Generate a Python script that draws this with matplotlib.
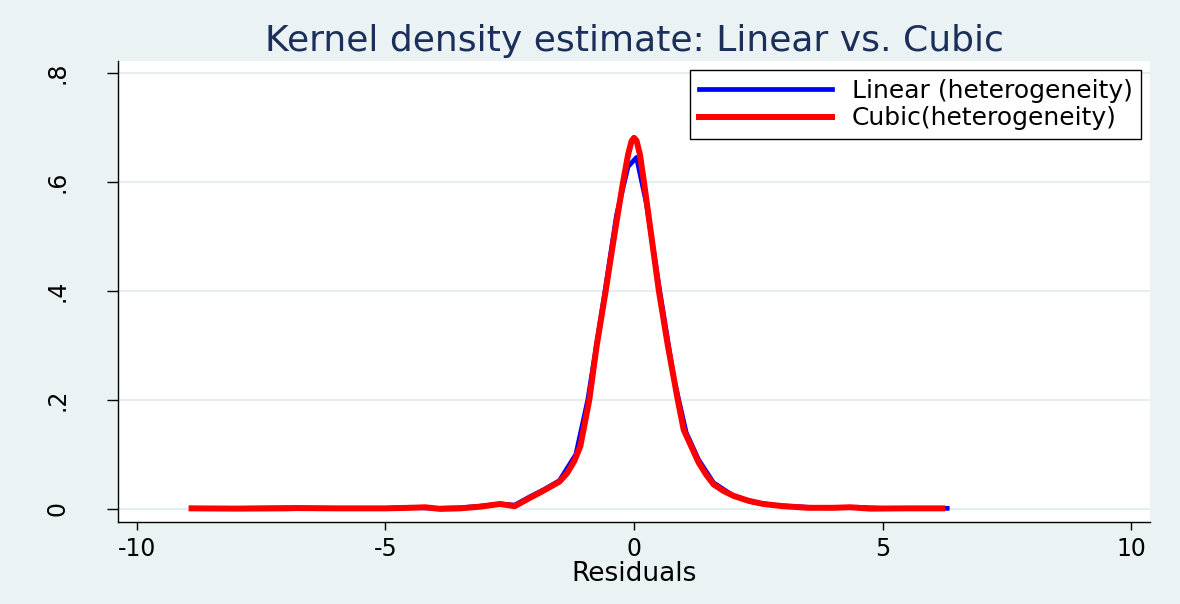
import numpy as np
import matplotlib
matplotlib.use('Agg')
import matplotlib.pyplot as plt

# Residual density curves (residual, density)
x_linear = [-8.9, -8.0, -7.0, -6.0, -5.0, -4.5, -4.0, -3.5, -3.1, -2.7, -2.4,
            -2.1, -1.8, -1.5, -1.17, -0.93, -0.6, -0.35, -0.12, 0.05, 0.25,
            0.5, 0.8, 1.05, 1.3, 1.6, 2.0, 2.4, 2.9, 3.5, 4.0, 4.5, 5.0, 5.5, 6.3]
y_linear = [0.001, 0.001, 0.002, 0.001, 0.001, 0.003, 0.001, 0.002, 0.005, 0.009, 0.007,
            0.022, 0.036, 0.052, 0.1, 0.2, 0.39, 0.54, 0.628, 0.645, 0.56,
            0.41, 0.24, 0.14, 0.09, 0.048, 0.024, 0.012, 0.006, 0.003, 0.002, 0.003, 0.001, 0.001, 0.001]

x_cubic = [-8.9, -8.0, -7.0, -6.8, -6.0, -5.0, -4.5, -4.2, -3.9, -3.5, -3.1, -2.7, -2.4,
           -2.1, -1.83, -1.5, -1.35, -1.2, -1.08, -0.9, -0.75, -0.57, -0.4, -0.22,
           -0.12, -0.05, 0.0, 0.05, 0.12, 0.2, 0.35, 0.5, 0.68, 0.88, 1.0, 1.15,
           1.3, 1.45, 1.6, 1.8, 2.0, 2.3, 2.6, 3.0, 3.5, 4.0, 4.35, 4.75, 5.5, 6.2]
y_cubic = [0.001, 0.0005, 0.001, 0.0015, 0.001, 0.001, 0.002, 0.003, 0.0, 0.001, 0.004, 0.009, 0.005,
           0.02, 0.033, 0.05, 0.065, 0.088, 0.115, 0.2, 0.3, 0.4, 0.5, 0.6,
           0.65, 0.675, 0.681, 0.676, 0.65, 0.6, 0.5, 0.4, 0.3, 0.2, 0.145, 0.115,
           0.085, 0.063, 0.045, 0.033, 0.024, 0.015, 0.009, 0.005, 0.002, 0.002, 0.003, 0.0005, 0.001, 0.001]

xticks = [-10, -5, 0, 5, 10]
yticks = [0, 0.2, 0.4, 0.6, 0.8]
ylabels = ['0', '.2', '.4', '.6', '.8']

plt.rcParams['font.family'] = ['DejaVu Sans']
plt.rcParams['axes.unicode_minus'] = False

fig = plt.figure(figsize=(11.8, 6.04), dpi=100, facecolor='#eaf2f3')
ax = fig.add_axes([0.1, 0.1358, 0.8746, 0.7632])
ax.set_facecolor('white')

ax.plot(x_linear, y_linear, color='#0000ff', lw=3.4, label='Linear (heterogeneity)', zorder=3)
ax.plot(x_cubic, y_cubic, color='#ff0000', lw=4.3, label='Cubic(heterogeneity)', zorder=4)

ax.set_xlim(-10.38, 10.38)
ax.set_ylim(-0.024, 0.822)

ax.set_xticks(xticks)
ax.set_xticklabels([str(t) for t in xticks])
ax.set_yticks(yticks)
ax.set_yticklabels(ylabels, rotation=90, va='center')
ax.tick_params(axis='x', length=6, width=1, pad=5, labelsize=17)
ax.tick_params(axis='y', length=8, width=1, pad=27, labelsize=17)

ax.yaxis.grid(True, color='#e6eef1', lw=1.5)
ax.set_axisbelow(True)

for s in ['top', 'right']:
    ax.spines[s].set_visible(False)
for s in ['left', 'bottom']:
    ax.spines[s].set_linewidth(1)
    ax.spines[s].set_color('black')

ax.set_xlabel('Residuals', fontsize=19, labelpad=0)
ax.set_title('Kernel density estimate: Linear vs. Cubic', fontsize=26,
             color='#1c2e5a', pad=7)

leg = ax.legend(loc='upper right', fontsize=18, handlelength=5.3, handletextpad=0.8,
                labelspacing=0.15, borderpad=0.35, borderaxespad=0.35,
                fancybox=False, framealpha=1, edgecolor='black')
leg.get_frame().set_linewidth(1)

fig.savefig('out.png', dpi=100, facecolor=fig.get_facecolor())
